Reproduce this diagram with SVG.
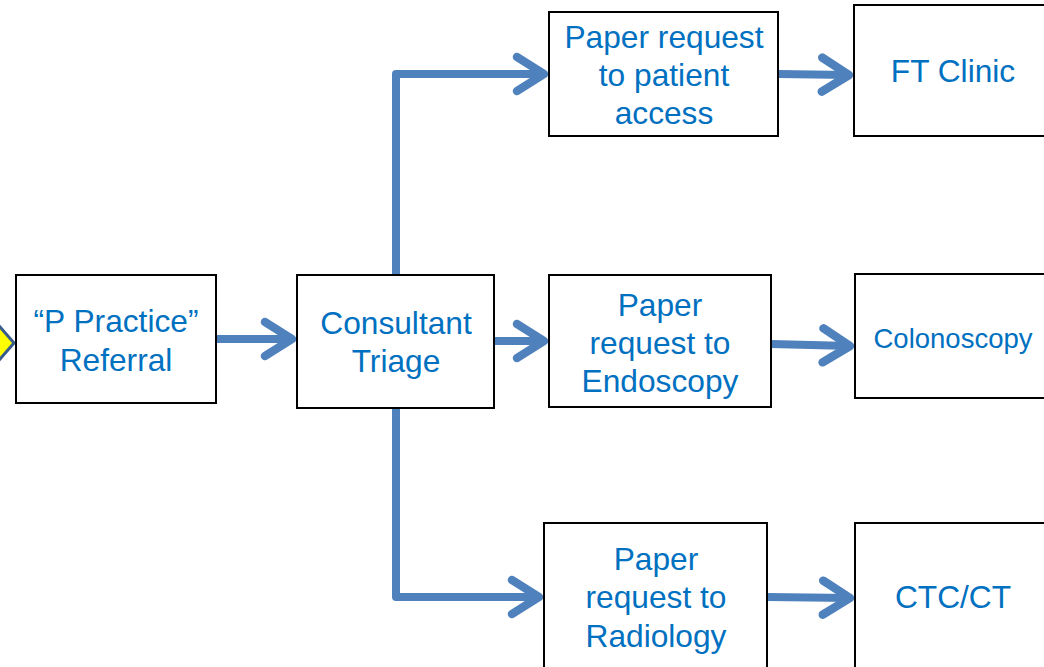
<svg xmlns="http://www.w3.org/2000/svg" width="1044" height="667" viewBox="0 0 1044 667">
<defs>
<style>
.box{fill:#fff;stroke:#000;stroke-width:2}
.t{fill:#0070C0;font-family:"Liberation Sans",Arial,sans-serif;font-size:31.7px;text-anchor:middle}
.conn{fill:none;stroke:#4F81BD;stroke-width:8;stroke-linejoin:round}
</style>
<marker id="chev" markerUnits="userSpaceOnUse" markerWidth="40" markerHeight="40" refX="0" refY="0" orient="auto" overflow="visible">
<path d="M-27,-17 L0,0 L-27,17" fill="none" stroke="#4F81BD" stroke-width="8.5" stroke-linecap="round" stroke-linejoin="round"/>
</marker>
</defs>
<rect width="1044" height="667" fill="#fff"/>
<g id="connectors">
<path class="conn" d="M216,339 L292,339" marker-end="url(#chev)"/>
<path class="conn" d="M494,341 L544,341" marker-end="url(#chev)"/>
<path class="conn" d="M396,275 L396,74 L544,74" marker-end="url(#chev)"/>
<path class="conn" d="M396,408 L396,597 L539,597" marker-end="url(#chev)"/>
<path class="conn" d="M778,74 L849,75" marker-end="url(#chev)"/>
<path class="conn" d="M771,344 L850,346" marker-end="url(#chev)"/>
<path class="conn" d="M767,597 L850,598" marker-end="url(#chev)"/>
</g>
<g id="start">
<polygon points="-16,343 0,327 14,343 0,359" fill="#FFFF00" stroke="#385D8A" stroke-width="3"/>
</g>
<g id="referral">
<rect class="box" x="16" y="275" width="200" height="128"/>
<text class="t" x="116" y="332">“P Practice”</text>
<text class="t" x="116" y="371">Referral</text>
</g>
<g id="triage">
<rect class="box" x="297" y="275" width="197" height="133"/>
<text class="t" x="396" y="334">Consultant</text>
<text class="t" x="396" y="372">Triage</text>
</g>
<g id="patient-access">
<rect class="box" x="549" y="12" width="229" height="124"/>
<text class="t" x="664" y="48">Paper request</text>
<text class="t" x="664" y="86">to patient</text>
<text class="t" x="664" y="124">access</text>
</g>
<g id="ft-clinic">
<rect class="box" x="854" y="5" width="200" height="131"/>
<text class="t" x="953" y="82">FT Clinic</text>
</g>
<g id="endoscopy">
<rect class="box" x="549" y="275" width="222" height="132"/>
<text class="t" x="660" y="316">Paper</text>
<text class="t" x="660" y="354">request to</text>
<text class="t" x="660" y="392">Endoscopy</text>
</g>
<g id="colonoscopy">
<rect class="box" x="855" y="274" width="200" height="124"/>
<text class="t" x="953" y="348" style="font-size:27.5px">Colonoscopy</text>
</g>
<g id="radiology">
<rect class="box" x="544" y="523" width="223" height="160"/>
<text class="t" x="656" y="570">Paper</text>
<text class="t" x="656" y="608">request to</text>
<text class="t" x="656" y="647">Radiology</text>
</g>
<g id="ctc">
<rect class="box" x="855" y="523" width="200" height="160"/>
<text class="t" x="953" y="608">CTC/CT</text>
</g>
</svg>
